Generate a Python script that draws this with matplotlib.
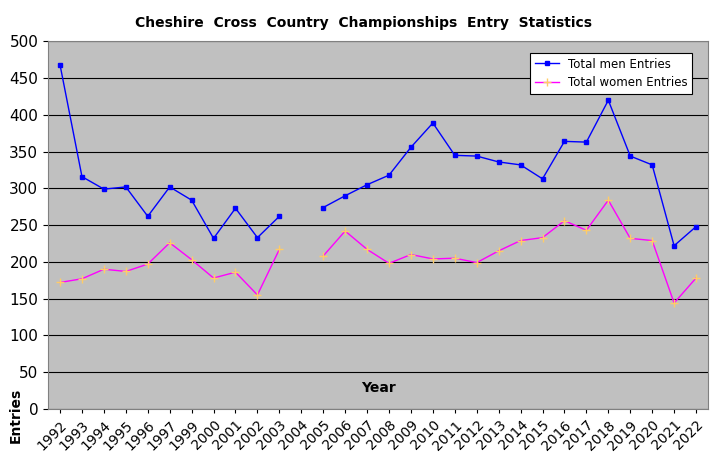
import matplotlib
matplotlib.use('Agg')
import matplotlib.pyplot as plt
import numpy as np

years = ['1992', '1993', '1994', '1995', '1996', '1997', '1999', '2000', '2001', '2002',
         '2003', '2004', '2005', '2006', '2007', '2008', '2009', '2010', '2011', '2012',
         '2013', '2014', '2015', '2016', '2017', '2018', '2019', '2020', '2021', '2022']
men = [468, 316, 299, 302, 262, 302, 284, 232, 273, 233, 262, np.nan, 274, 290, 305, 318,
       356, 389, 345, 344, 336, 332, 313, 364, 363, 420, 344, 332, 222, 248]
women = [172, 177, 190, 187, 197, 226, 203, 178, 186, 155, 217, np.nan, 208, 242, 217, 198,
         210, 204, 205, 199, 215, 229, 233, 256, 243, 284, 232, 229, 144, 178]

fig = plt.figure(figsize=(7.27, 4.71), dpi=100)
ax = fig.add_axes([0.066, 0.132, 0.908, 0.78])
ax.set_facecolor('#C0C0C0')
x = np.arange(len(years))

ax.plot(x, men, color='#0000FF', lw=1, marker='s', ms=2.5, label='Total men Entries')
ax.plot(x, women, color='#FF00FF', lw=1, marker='+', ms=6, mec='#FFCC66',
        label='Total women Entries')

ax.set_xlim(-0.55, len(years) - 0.45)
ax.set_ylim(0, 500)
ax.set_yticks(range(0, 501, 50))
ax.grid(axis='y', color='black', lw=0.8)
ax.set_axisbelow(True)
ax.set_xticks(x)
ax.set_xticklabels(years, rotation=45, ha='right', rotation_mode='anchor', fontsize=10)
ax.tick_params(axis='y', labelsize=11)
ax.tick_params(axis='x', length=3)
for s in ax.spines.values():
    s.set_color('#808080')

ax.text(0.5, 0.045, 'Year', transform=ax.transAxes, ha='center', fontsize=10,
        fontweight='bold')
fig.text(0.012, 0.06, 'Entries', rotation=90, fontsize=10, fontweight='bold', va='bottom')
fig.suptitle('Cheshire  Cross  Country  Championships  Entry  Statistics', fontsize=10,
             fontweight='bold', y=0.965)

leg = ax.legend(loc='upper right', fontsize=8.5, fancybox=False, framealpha=1,
                edgecolor='black', bbox_to_anchor=(0.985, 0.985))
leg.get_frame().set_linewidth(0.8)

fig.savefig('out.png', dpi=100)
